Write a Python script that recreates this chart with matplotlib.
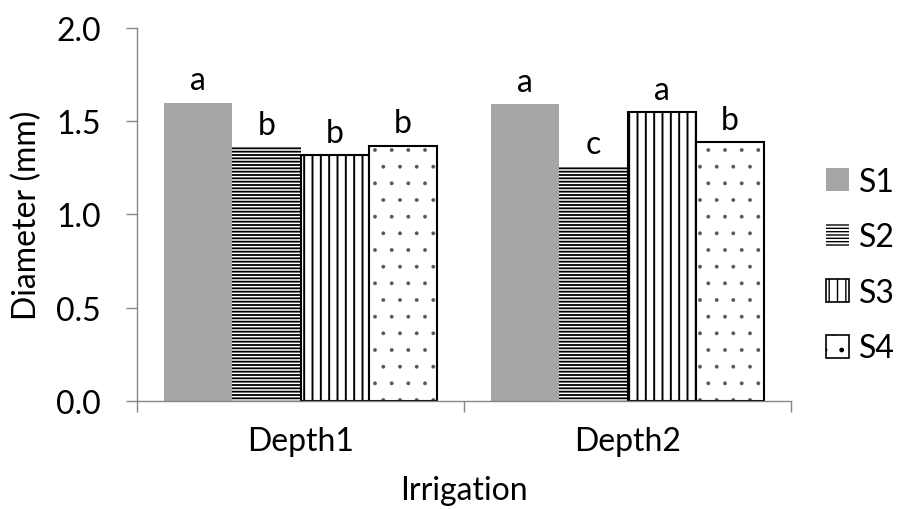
import matplotlib
matplotlib.use("Agg")
import matplotlib.pyplot as plt
from matplotlib.patches import Patch
import numpy as np

plt.rcParams['font.family'] = ['Lato', 'DejaVu Sans']

# veriler
groups = ["Depth1", "Depth2"]
series = ["S1", "S2", "S3", "S4"]
values = {
    "S1": [1.60, 1.59],
    "S2": [1.36, 1.26],
    "S3": [1.32, 1.55],
    "S4": [1.37, 1.39],
}
letters = {
    "S1": ["a", "a"],
    "S2": ["b", "c"],
    "S3": ["b", "a"],
    "S4": ["b", "b"],
}

# görünüm ayarları
styles = {
    "S1": dict(facecolor="#a6a6a6", edgecolor="#a6a6a6", hatch=None, linewidth=0),
    "S2": dict(facecolor="white", edgecolor="black", hatch="-----", linewidth=0),
    "S3": dict(facecolor="white", edgecolor="black", hatch="||", linewidth=1.5),
    "S4": dict(facecolor="white", edgecolor="#555555", hatch=".", linewidth=0),
}
hatch_lw = {"S1": 1.0, "S2": 1.3, "S3": 1.4, "S4": 0.3}
fs = 23

fig = plt.figure(figsize=(9.02, 5.10), dpi=100)
ax = fig.add_axes([0.152, 0.212, 0.725, 0.731])

x = np.arange(len(groups))
w = 0.835 / len(series)
axis_gray = "#868686"

for i, s in enumerate(series):
    pos = x + (i - 1.5) * w
    plt.rcParams['hatch.linewidth'] = hatch_lw[s]
    bars = ax.bar(pos, values[s], width=w, **styles[s])
    if s == "S4":
        # siyah çerçeve ayrı çizilir
        ax.bar(pos, values[s], width=w, facecolor="none", edgecolor="black", linewidth=1.5)
    for b, lab in zip(bars, letters[s]):
        ax.annotate(lab, (b.get_x() + b.get_width() / 2, b.get_height()),
                    xytext=(0, 16), textcoords="offset points",
                    ha="center", va="center", fontsize=fs)

ax.set_xlim(-0.5, 1.5)
ax.set_ylim(0, 2.0)
ax.set_yticks(np.arange(0, 2.01, 0.5))
ax.set_yticklabels([f"{v:.1f}" for v in np.arange(0, 2.01, 0.5)])
ax.set_xticks(x)
ax.set_xticklabels(groups)
ax.set_xticks([-0.5, 0.5, 1.5], minor=True)
ax.tick_params(axis="x", which="major", length=0, pad=18, labelsize=fs)
ax.tick_params(axis="x", which="minor", length=8, direction="out", color=axis_gray, width=1)
ax.tick_params(axis="y", length=8, direction="out", color=axis_gray, width=1, labelsize=fs, pad=18)

for side in ["top", "right"]:
    ax.spines[side].set_visible(False)
for side in ["left", "bottom"]:
    ax.spines[side].set_color(axis_gray)
    ax.spines[side].set_linewidth(1)

ax.set_ylabel("Diameter (mm)", fontsize=fs, labelpad=10)
ax.set_xlabel("Irrigation", fontsize=fs, labelpad=14)

# lejant: küçük kareler
plt.rcParams['hatch.linewidth'] = 1.0
handles = [
    Patch(facecolor="#a6a6a6", edgecolor="#a6a6a6", linewidth=0),
    Patch(facecolor="white", edgecolor="black", hatch="-----", linewidth=0),
    Patch(facecolor="white", edgecolor="black", hatch="||", linewidth=1.2),
    Patch(facecolor="white", edgecolor="black", hatch=".", linewidth=1.2),
]
leg = fig.legend(handles, series, loc="center left", bbox_to_anchor=(826 / 902, 1 - 266 / 510),
                 bbox_transform=fig.transFigure, frameon=False, fontsize=fs,
                 handlelength=0.72, handleheight=0.72, labelspacing=0.8,
                 handletextpad=0.3, borderaxespad=0, borderpad=0)

fig.savefig("out.png", dpi=100)
